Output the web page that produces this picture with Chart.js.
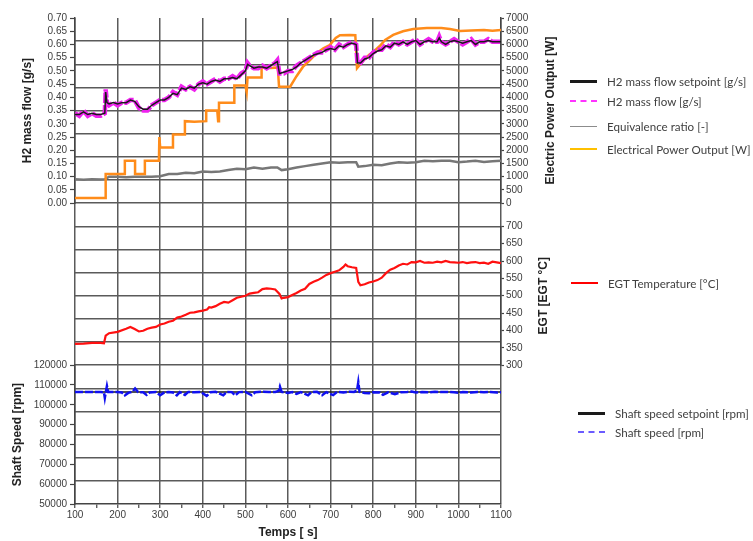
<!DOCTYPE html>
<html>
<head>
<meta charset="utf-8">
<script src="https://cdn.jsdelivr.net/npm/chart.js@4.4.1/dist/chart.umd.min.js"></script>
<style>
  body { margin: 0; background: #fff; }
  #wrap { position: relative; width: 753px; height: 541px; }
  .key { position: absolute; display: flex; align-items: center; white-space: nowrap;
         font: 11.6px Lato, "Open Sans", sans-serif; color: #404040; height: 16px; }
  .key i { display: inline-block; width: 27px; margin-right: 10px; }
</style>
</head>
<body>
<div id="wrap">
  <canvas id="chart" width="753" height="541"></canvas>
  <div class="key" style="left:570px;top:73px"><i style="border-top:3px solid #1a1a1a"></i>H2 mass flow setpoint [g/s]</div>
  <div class="key" style="left:570px;top:93px"><i style="border-top:2.5px dashed #ff33ff"></i>H2 mass flow [g/s]</div>
  <div class="key" style="left:570px;top:118px"><i style="border-top:1.5px solid #8c8c8c"></i>Equivalence ratio [-]</div>
  <div class="key" style="left:570px;top:141px"><i style="border-top:2.5px solid #ffc000"></i>Electrical Power Output [W]</div>
  <div class="key" style="left:571px;top:275px"><i style="border-top:2px solid #ff0000"></i>EGT Temperature [°C]</div>
  <div class="key" style="left:578px;top:405px"><i style="border-top:3px solid #1a1a1a"></i>Shaft speed setpoint [rpm]</div>
  <div class="key" style="left:578px;top:424px"><i style="border-top:2.5px dashed #6b5bff"></i>Shaft speed [rpm]</div>
</div>
<script>
// ---- data (time in s) ----
const H2_T = [100,110,120,130,140,150,160,170,172,175,
  180,190,200,210,220,230,240,250,260,270,280,290,300,310,320,330,340,350,360,370,380,390,400,410,420,430,440,450,460,470,480,490,500,
  505,510,520,530,540,550,560,570,575,
  580,590,600,610,620,630,640,650,660,670,680,690,700,710,720,730,740,750,760,
  763,770,780,790,800,810,820,830,840,850,860,870,880,890,900,910,920,930,940,950,
  955,960,970,980,990,1000,1010,1020,1030,1040,1050,1060,1070,1080,1090,1100];

const H2_FLOW = [.34,.33,.35,.33,.34,.33,.33,.34,.43,.38,
  .37,.38,.37,.38,.38,.39,.39,.36,.35,.35,.37,.38,.39,.39,.40,.42,.41,.44,.43,.44,.43,.45,.46,.45,.46,.47,.46,.47,.47,.48,.47,.49,.50,
  .53,.52,.51,.51,.52,.51,.52,.53,.54,
  .49,.49,.50,.50,.52,.53,.54,.55,.56,.57,.57,.58,.59,.58,.60,.59,.60,.61,.60,
  .53,.53,.55,.55,.57,.58,.58,.60,.59,.61,.60,.61,.60,.61,.62,.60,.61,.62,.61,.61,
  .63,.61,.60,.61,.62,.61,.60,.61,.62,.60,.61,.61,.62,.61,.61,.61];

const H2_SETPOINT = [.335,.335,.345,.335,.34,.335,.335,.34,.42,.38,
  .375,.38,.375,.38,.38,.39,.385,.365,.355,.355,.37,.38,.39,.39,.40,.415,.41,.435,.43,.44,.435,.45,.455,.45,.46,.465,.46,.47,.47,.475,.47,.485,.50,
  .525,.52,.51,.515,.515,.51,.52,.53,.535,
  .49,.495,.50,.505,.515,.53,.54,.55,.56,.565,.57,.58,.585,.58,.595,.59,.60,.605,.60,
  .53,.53,.545,.55,.565,.575,.58,.595,.59,.605,.60,.61,.60,.61,.615,.60,.61,.615,.61,.61,
  .625,.61,.60,.61,.615,.61,.605,.61,.615,.60,.61,.61,.615,.61,.61,.61];

const EQUIV_T = [100,120,140,160,170,180,200,220,240,260,280,300,320,340,360,380,400,420,440,460,
  480,500,520,540,560,575,585,600,620,640,660,680,700,720,740,760,765,780,800,820,
  840,860,880,900,920,940,960,980,1000,1020,1040,1060,1080,1100];
const EQUIV = [.09,.088,.09,.089,.09,.10,.10,.098,.10,.10,.10,.102,.11,.11,.115,.113,.12,.118,.12,.125,
  .13,.128,.135,.13,.135,.135,.125,.128,.135,.14,.145,.15,.155,.153,.155,.155,.138,.14,.145,.143,
  .15,.155,.153,.155,.16,.158,.16,.16,.155,.157,.16,.156,.158,.16];

const POWER_T = [100,172,172,217,217,241,241,264,264,297,298,300,330,330,358,358,380,408,408,434,
  436,438,474,474,500,503,505,538,538,560,576,579,605,620,635,651,668,683,698,712,
  722,745,758,762,776,790,800,816,828,847,870,894,926,960,980,1004,1030,1060,1080,1100];
const POWER = [190,190,1100,1100,1600,1600,1100,1100,1600,1600,2500,2100,2100,2600,2600,3100,3080,3100,3500,3500,
  3100,3800,3800,4450,4450,4200,4750,4750,5130,5110,5130,4400,4400,4800,5150,5400,5680,5850,5980,6250,
  6350,6360,6350,5100,5380,5600,5720,5950,6170,6360,6500,6580,6620,6620,6580,6510,6530,6550,6520,6550];

const EGT_T = [100,120,140,160,168,172,180,200,220,230,240,250,260,270,280,290,300,310,320,330,
  340,350,360,370,380,390,400,410,415,420,430,440,450,460,470,480,490,500,510,520,
  530,540,550,560,570,580,585,590,600,610,620,630,640,650,660,670,680,690,700,710,
  720,730,735,740,750,760,765,770,780,790,800,810,820,830,840,850,860,870,880,890,
  900,910,920,930,940,950,960,970,980,990,1000,1010,1020,1030,1040,1050,1060,1070,1080,1090,1100];
const EGT = [361,362,364,364,363,385,392,396,405,410,404,397,399,405,408,410,417,420,425,428,
  437,440,445,451,452,455,457,460,467,466,470,477,482,480,487,494,497,500,506,508,
  510,519,521,520,518,505,492,494,496,502,508,515,520,534,540,545,552,560,565,569,
  573,583,590,585,582,580,540,530,533,538,541,545,552,565,575,580,587,592,590,597,
  596,600,595,596,595,598,596,600,597,596,595,597,594,596,597,594,595,592,598,596,594];

const SPEED_T = [100,110,120,130,140,150,160,168,170,172,175,178,190,200,210,217,225,235,241,248,
  260,268,275,290,300,310,320,330,339,346,358,366,380,395,409,418,430,448,456,468,
  476,485,500,515,523,540,555,570,578,581,585,600,610,620,630,647,655,668,680,690,
  706,715,730,745,755,762,765,768,780,790,800,815,823,835,851,865,880,890,900,915,
  930,945,960,975,990,1000,1010,1030,1045,1060,1075,1090,1100];
const SPEED = [106500,106500,106400,106500,106500,106400,106500,106300,103500,106000,109500,106500,106400,106500,106200,104800,106000,106600,108200,106400,
  106300,105000,106200,106500,104800,106300,106500,106200,104800,106400,105000,106500,106300,106500,104500,106300,106600,104800,106500,106400,
  104800,106400,106500,104800,106300,106600,106400,106500,107000,109200,106500,106000,106400,105500,106400,104800,106400,106600,104800,106400,
  104900,106500,106200,106600,106500,107200,111500,106500,106000,105800,106300,106200,105000,106300,105400,106300,106500,106700,106200,106400,
  106300,106600,106400,106500,106300,106000,106400,106200,106500,106300,106500,106200,106400];
const SPEED_SET_T = [100, 1100];
const SPEED_SET = [106500, 106500];

// tick values
const TIME_TICKS = [100,150,200,250,300,350,400,450,500,550,600,650,700,750,800,850,900,950,1000,1050,1100];
const H2_TICKS = [0,0.05,0.10,0.15,0.20,0.25,0.30,0.35,0.40,0.45,0.50,0.55,0.60,0.65,0.70];
const POWER_TICKS = [0,500,1000,1500,2000,2500,3000,3500,4000,4500,5000,5500,6000,6500,7000];
const EGT_TICKS = [300,350,400,450,500,550,600,650,700];
const SPEED_TICKS = [50000,60000,70000,80000,90000,100000,110000,120000];

const FONT = '"Liberation Sans", Arial, sans-serif';
const GRID = '#5a5a5a';
const AXIS = '#444';
const LABEL = '#3c3c3c';

const pts = (t, v) => t.map((x, i) => ({ x, y: v[i] }));
const useTicks = list => scale => { scale.ticks = list.map(value => ({ value })); };

// side titles drawn bottom-to-top like the original
const AXIS_TITLES = [
  { axis: 'yH2', text: 'H2 mass flow [g/s]', dx: -47 },
  { axis: 'ySpeed', text: 'Shaft Speed [rpm]', dx: -57 },
  { axis: 'yPower', text: 'Electric Power Output [W]', dx: 50 },
  { axis: 'yEgt', text: 'EGT [EGT °C]', dx: 43 }
];

const sideTitles = {
  id: 'sideTitles',
  afterDraw(chart) {
    const { ctx, chartArea, scales } = chart;
    ctx.save();
    ctx.font = 'bold 12px ' + FONT;
    ctx.fillStyle = '#222';
    ctx.textAlign = 'center';
    ctx.textBaseline = 'middle';
    AXIS_TITLES.forEach(t => {
      const s = scales[t.axis];
      const x = t.dx < 0 ? chartArea.left + t.dx : chartArea.right + t.dx;
      ctx.save();
      ctx.translate(x, (s.top + s.bottom) / 2);
      ctx.rotate(-Math.PI / 2);
      ctx.fillText(t.text, 0, 0);
      ctx.restore();
    });
    ctx.restore();
  }
};

function valueAxis(position, stackWeight, weight, min, max, ticks, fmt, width, tickLength, pad) {
  return {
    type: 'linear', position, stack: position, stackWeight, weight, min, max,
    afterBuildTicks: useTicks(ticks),
    afterFit: s => { s.width = width; },
    ticks: { autoSkip: false, callback: fmt, color: LABEL, padding: pad, font: { family: FONT, size: 10 } },
    grid: { drawOnChartArea: false, tickLength, tickColor: AXIS, tickWidth: 1.2 },
    border: { color: AXIS, width: 1.5 }
  };
}

function gapAxis(position, stackWeight, weight) {
  return { type: 'linear', position, stack: position, stackWeight, weight, min: 0, max: 1, display: false };
}

new Chart(document.getElementById('chart'), {
  type: 'line',
  data: {
    datasets: [
      { label: 'H2 mass flow setpoint [g/s]', data: pts(H2_T, H2_SETPOINT), yAxisID: 'yH2',
        borderColor: '#1a1a1a', borderWidth: 1.5 },
      { label: 'H2 mass flow [g/s]', data: pts(H2_T, H2_FLOW), yAxisID: 'yH2',
        borderColor: '#ee22ee', borderWidth: 4.5, borderDash: [10, 2] },
      { label: 'Shaft speed [rpm]', data: pts(SPEED_T, SPEED), yAxisID: 'ySpeed',
        borderColor: '#1010f0', borderWidth: 2.5, borderDash: [8, 2] },
      { label: 'Shaft speed setpoint [rpm]', data: pts(SPEED_SET_T, SPEED_SET), yAxisID: 'ySpeed',
        borderColor: '#1a1a1a', borderWidth: 1.5 },
      { label: 'Electrical Power Output [W]', data: pts(POWER_T, POWER), yAxisID: 'yPower',
        borderColor: '#ff8c1a', borderWidth: 2.5 },
      { label: 'Equivalence ratio [-]', data: pts(EQUIV_T, EQUIV), yAxisID: 'yH2',
        borderColor: '#777', borderWidth: 2.5 },
      { label: 'EGT Temperature [°C]', data: pts(EGT_T, EGT), yAxisID: 'yEgt',
        borderColor: '#ff1010', borderWidth: 2.2 }
    ]
  },
  options: {
    responsive: false,
    animation: false,
    devicePixelRatio: 1,
    layout: { padding: { left: 13, right: 192, top: 18, bottom: 0 } },
    elements: { point: { radius: 0 }, line: { tension: 0 } },
    plugins: { legend: { display: false }, tooltip: { enabled: false } },
    scales: {
      x: {
        type: 'linear', min: 100, max: 1100,
        afterBuildTicks: useTicks(TIME_TICKS),
        afterFit: s => { s.height = 37; },
        ticks: { autoSkip: false, maxRotation: 0, padding: 1, color: LABEL, font: { family: FONT, size: 10 },
                 callback: v => (v % 100 === 0 ? String(v) : '') },
        grid: { color: c => (c.tick && c.tick.value % 100 === 0 ? GRID : 'transparent'),
                lineWidth: 1.5, tickLength: 4, tickColor: AXIS, tickWidth: 1.2 },
        border: { color: AXIS, width: 1.5 },
        title: { display: true, text: 'Temps [ s]', color: '#222', padding: { top: 0, bottom: 1 },
                 font: { family: FONT, size: 12, weight: 'bold' } }
      },
      yGrid: {
        type: 'linear', position: 'left', weight: 0, min: 0, max: 21,
        ticks: { display: false, stepSize: 1 },
        afterFit: s => { s.width = 0; },
        grid: { color: c => (c.tick && (c.tick.value === 21 || c.tick.value === 0) ? 'transparent' : GRID),
                lineWidth: 1.5, drawTicks: false },
        border: { display: false }
      },
      yH2: valueAxis('left', 8, 3, 0, 0.7, H2_TICKS, v => v.toFixed(2), 62, 5, 3),
      yGapL: gapAxis('left', 7, 2),
      ySpeed: valueAxis('left', 6, 1, 50000, 120000, SPEED_TICKS, v => String(v), 62, 5, 3),
      yPower: valueAxis('right', 8, 1, 0, 7000, POWER_TICKS, v => String(v), 60, 3, 2),
      yGapR1: gapAxis('right', 1, 2),
      yEgt: valueAxis('right', 6, 3, 300, 700, EGT_TICKS, v => String(v), 60, 3, 2),
      yGapR2: gapAxis('right', 6, 4)
    }
  },
  plugins: [sideTitles]
});
</script>
</body>
</html>
